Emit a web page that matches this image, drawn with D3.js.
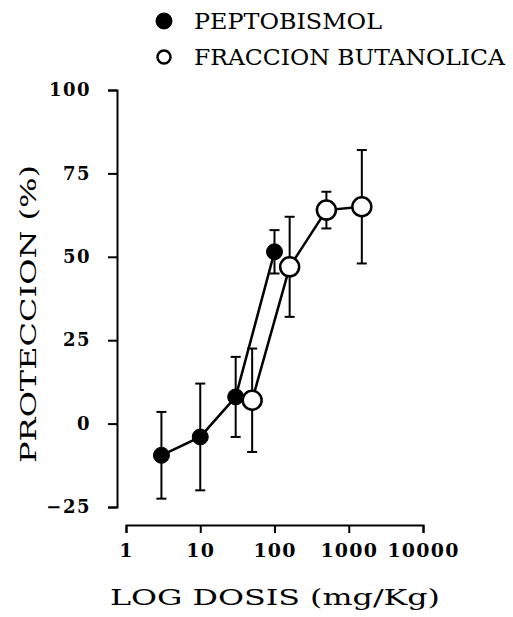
<!DOCTYPE html>
<html><head><meta charset="utf-8">
<script src="https://cdn.jsdelivr.net/npm/d3@7"></script>
<style>
html,body{margin:0;padding:0;background:#fff;}
svg{display:block;}
</style></head>
<body>
<svg id="chart" width="513" height="617"></svg>
<script>
// ---- data ----
const seriesNames = ["PEPTOBISMOL", "FRACCION BUTANOLICA"];
const peptoDose = [3, 10, 30, 100];
const peptoMean = [-9.5, -4, 8, 51.5];
const peptoErr  = [13, 16, 12, 6.5];
const butDose = [50, 160, 500, 1500];
const butMean = [7, 47, 64, 65];
const butErr  = [15.5, 15, 5.5, 17];
const yTicks = [-25, 0, 25, 50, 75, 100];
const xTicks = [1, 10, 100, 1000, 10000];
const yTitle = "PROTECCION (%)";
const xTitle = "LOG DOSIS (mg/Kg)";

const svg = d3.select("#chart");
const serif = "'DejaVu Serif', 'Liberation Serif', serif";

const y = d3.scaleLinear().domain([-25, 100]).range([507, 90]);
const x = d3.scaleLog().domain([1, 10000]).range([126, 423]);

// y axis
const gy = svg.append("g").attr("transform", "translate(117,0)")
  .call(d3.axisLeft(y).tickValues(yTicks).tickSize(9).tickSizeOuter(9).tickPadding(17)
        .tickFormat(d => d < 0 ? "\u2212" + Math.abs(d) : d));
gy.selectAll("path,line").attr("stroke", "#000").attr("stroke-width", 2);
gy.selectAll("text").attr("font-family", serif).attr("font-weight", "bold")
  .attr("font-size", 18).attr("letter-spacing", 1.5).attr("fill", "#000");

// x axis
const gx = svg.append("g").attr("transform", "translate(0,525)")
  .call(d3.axisBottom(x).tickValues(xTicks).tickSize(8).tickSizeOuter(8).tickPadding(11)
        .tickFormat(d3.format("d")));
gx.selectAll("path,line").attr("stroke", "#000").attr("stroke-width", 2);
gx.selectAll("text").attr("font-family", serif).attr("font-weight", "bold")
  .attr("font-size", 19).attr("letter-spacing", 1.2).attr("fill", "#000");

// titles
svg.append("text").attr("transform", "translate(36,314) rotate(-90)")
  .attr("text-anchor", "middle").attr("font-family", serif).attr("font-size", 23)
  .attr("textLength", 298).attr("lengthAdjust", "spacingAndGlyphs")
  .attr("fill", "#000").text(yTitle);
svg.append("text").attr("x", 275).attr("y", 605)
  .attr("text-anchor", "middle").attr("font-family", serif).attr("font-size", 23)
  .attr("textLength", 330).attr("lengthAdjust", "spacingAndGlyphs")
  .attr("fill", "#000").text(xTitle);

// series
function drawSeries(doses, means, errs, filled) {
  const pts = doses.map((d, i) => ({d, m: means[i], e: errs[i]}));
  const g = svg.append("g");
  g.selectAll("line.eb").data(pts).enter().append("line")
    .attr("x1", p => x(p.d)).attr("x2", p => x(p.d))
    .attr("y1", p => y(p.m - p.e)).attr("y2", p => y(p.m + p.e))
    .attr("stroke", "#000").attr("stroke-width", 2);
  ["top", "bot"].forEach(k => {
    g.selectAll("line.cap" + k).data(pts).enter().append("line")
      .attr("x1", p => x(p.d) - 5).attr("x2", p => x(p.d) + 5)
      .attr("y1", p => y(k === "top" ? p.m + p.e : p.m - p.e))
      .attr("y2", p => y(k === "top" ? p.m + p.e : p.m - p.e))
      .attr("stroke", "#000").attr("stroke-width", 2);
  });
  g.append("path").datum(pts)
    .attr("d", d3.line().x(p => x(p.d)).y(p => y(p.m)))
    .attr("fill", "none").attr("stroke", "#000").attr("stroke-width", 2.5);
  g.selectAll("circle").data(pts).enter().append("circle")
    .attr("cx", p => x(p.d)).attr("cy", p => y(p.m))
    .attr("r", filled ? 8 : 9.5)
    .attr("fill", filled ? "#000" : "#fff")
    .attr("stroke", "#000").attr("stroke-width", filled ? 1 : 2.5);
}
drawSeries(peptoDose, peptoMean, peptoErr, true);
drawSeries(butDose, butMean, butErr, false);

// legend
const leg = svg.append("g");
seriesNames.forEach((name, i) => {
  const cy = 21 + i * 36;
  leg.append("circle").attr("cx", 164).attr("cy", cy)
    .attr("r", i === 0 ? 8 : 6.5)
    .attr("fill", i === 0 ? "#000" : "#fff")
    .attr("stroke", "#000").attr("stroke-width", i === 0 ? 1 : 2.5);
  leg.append("text").attr("x", 194).attr("y", cy + 8)
    .attr("font-family", serif).attr("font-size", 23)
    .attr("textLength", i === 0 ? 188 : 311).attr("lengthAdjust", "spacingAndGlyphs")
    .attr("fill", "#000").text(name);
});
</script>
</body></html>
